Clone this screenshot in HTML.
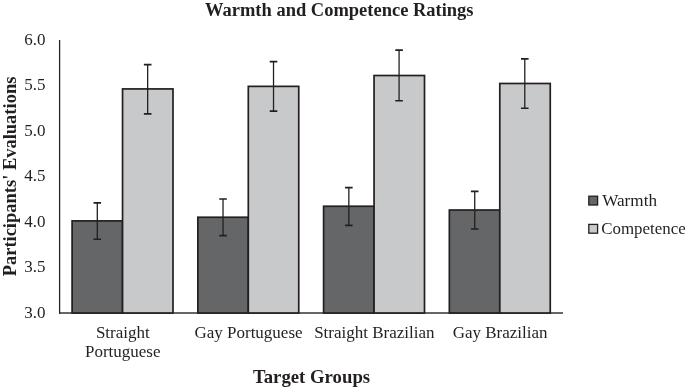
<!DOCTYPE html>
<html><head><meta charset="utf-8"><style>
html,body{margin:0;padding:0;background:#fff;width:685px;height:389px;overflow:hidden}
svg{display:block;will-change:transform}
.n{font-family:"Liberation Serif",serif;font-size:17px;fill:#231f20}
.l{font-family:"Liberation Serif",serif;font-size:16.9px;fill:#231f20}
.b{font-family:"Liberation Serif",serif;font-size:18.5px;font-weight:bold;fill:#231f20}
</style></head><body>
<svg width="685" height="389" viewBox="0 0 685 389">
<path d="M59.0 313.0H563.0" stroke="#686666" stroke-width="2" fill="none"/>
<path d="M59.6 40V313.8" stroke="#231f20" stroke-width="1.25" fill="none"/>
<rect x="72.10" y="220.90" width="50.45" height="92.10" fill="#656668" stroke="#231f20" stroke-width="1.7"/>
<rect x="122.55" y="88.93" width="50.45" height="224.07" fill="#c8c9cb" stroke="#231f20" stroke-width="1.7"/>
<rect x="197.85" y="217.25" width="50.45" height="95.75" fill="#656668" stroke="#231f20" stroke-width="1.7"/>
<rect x="248.30" y="86.37" width="50.45" height="226.63" fill="#c8c9cb" stroke="#231f20" stroke-width="1.7"/>
<rect x="323.60" y="206.25" width="50.45" height="106.75" fill="#656668" stroke="#231f20" stroke-width="1.7"/>
<rect x="374.05" y="75.52" width="50.45" height="237.48" fill="#c8c9cb" stroke="#231f20" stroke-width="1.7"/>
<rect x="449.35" y="210.02" width="50.45" height="102.98" fill="#656668" stroke="#231f20" stroke-width="1.7"/>
<rect x="499.80" y="83.48" width="50.45" height="229.52" fill="#c8c9cb" stroke="#231f20" stroke-width="1.7"/>
<path d="M97.30 202.90V239.10" stroke="#231f20" stroke-width="1.3" fill="none"/>
<path d="M93.50 202.90H101.10M93.50 239.30H101.10" stroke="#231f20" stroke-width="1.6" fill="none"/>
<path d="M147.67 64.62V113.68" stroke="#231f20" stroke-width="1.3" fill="none"/>
<path d="M143.87 64.62H151.47M143.87 113.88H151.47" stroke="#231f20" stroke-width="1.6" fill="none"/>
<path d="M223.03 198.97V235.40" stroke="#231f20" stroke-width="1.3" fill="none"/>
<path d="M219.23 198.97H226.83M219.23 235.60H226.83" stroke="#231f20" stroke-width="1.6" fill="none"/>
<path d="M273.52 61.62V110.97" stroke="#231f20" stroke-width="1.3" fill="none"/>
<path d="M269.72 61.62H277.32M269.72 111.17H277.32" stroke="#231f20" stroke-width="1.6" fill="none"/>
<path d="M348.84 187.63V225.20" stroke="#231f20" stroke-width="1.3" fill="none"/>
<path d="M345.04 187.63H352.64M345.04 225.40H352.64" stroke="#231f20" stroke-width="1.6" fill="none"/>
<path d="M399.08 50.17V100.57" stroke="#231f20" stroke-width="1.3" fill="none"/>
<path d="M395.28 50.17H402.88M395.28 100.77H402.88" stroke="#231f20" stroke-width="1.6" fill="none"/>
<path d="M474.73 191.40V228.76" stroke="#231f20" stroke-width="1.3" fill="none"/>
<path d="M470.93 191.40H478.53M470.93 228.96H478.53" stroke="#231f20" stroke-width="1.6" fill="none"/>
<path d="M524.78 58.88V108.08" stroke="#231f20" stroke-width="1.3" fill="none"/>
<path d="M520.98 58.88H528.58M520.98 108.28H528.58" stroke="#231f20" stroke-width="1.6" fill="none"/>
<text transform="translate(45.60 44.99) scale(1.0 1.02)" text-anchor="end" class="n">6.0</text>
<text transform="translate(45.60 90.43) scale(1.0 1.02)" text-anchor="end" class="n">5.5</text>
<text transform="translate(45.60 135.86) scale(1.0 1.02)" text-anchor="end" class="n">5.0</text>
<text transform="translate(45.60 181.30) scale(1.0 1.02)" text-anchor="end" class="n">4.5</text>
<text transform="translate(45.60 226.73) scale(1.0 1.02)" text-anchor="end" class="n">4.0</text>
<text transform="translate(45.60 272.17) scale(1.0 1.02)" text-anchor="end" class="n">3.5</text>
<text transform="translate(45.60 317.60) scale(1.0 1.02)" text-anchor="end" class="n">3.0</text>
<text transform="translate(122.77 338.20) scale(1.0 1.02)" text-anchor="middle" class="n">Straight</text>
<text transform="translate(122.77 357.20) scale(1.0 1.02)" text-anchor="middle" class="n">Portuguese</text>
<text transform="translate(248.53 338.20) scale(1.0 1.02)" text-anchor="middle" class="n">Gay Portuguese</text>
<text transform="translate(374.28 338.20) scale(1.0 1.02)" text-anchor="middle" class="n">Straight Brazilian</text>
<text transform="translate(500.03 338.20) scale(1.0 1.02)" text-anchor="middle" class="n">Gay Brazilian</text>
<text transform="translate(339.30 15.60) scale(1.0 0.98)" text-anchor="middle" class="b">Warmth and Competence Ratings</text>
<text transform="translate(311.50 383.00) scale(1.014 0.98)" text-anchor="middle" class="b">Target Groups</text>
<text transform="translate(15.50 176.50) rotate(-90) scale(1.0 0.98)" text-anchor="middle" class="b">Participants&#39; Evaluations</text>
<rect x="588.8" y="196.2" width="8.8" height="8.8" fill="#656668" stroke="#231f20" stroke-width="1.3"/>
<rect x="588.8" y="224.4" width="8.8" height="8.8" fill="#c8c9cb" stroke="#231f20" stroke-width="1.3"/>
<text transform="translate(602.20 206.00) scale(1.015 1.02)" class="l">Warmth</text>
<text transform="translate(601.30 234.20) scale(1.0 1.02)" class="l">Competence</text>
</svg>
</body></html>
